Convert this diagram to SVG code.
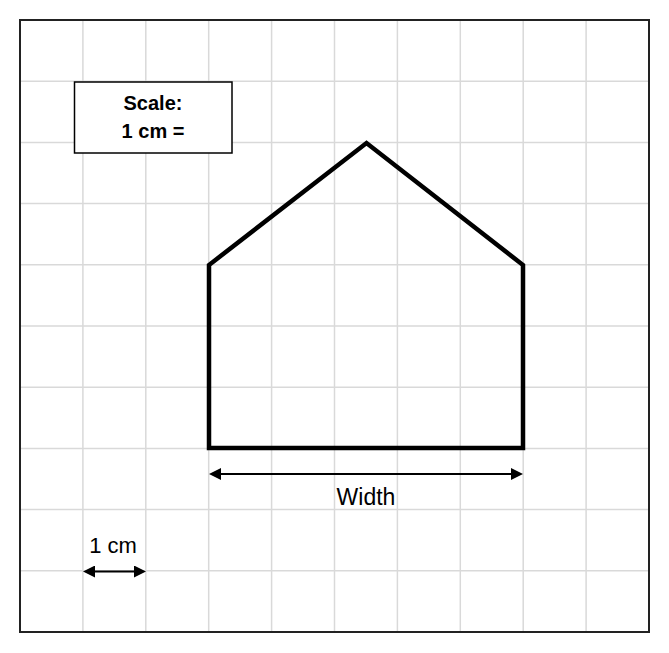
<svg xmlns="http://www.w3.org/2000/svg" width="669" height="653" viewBox="0 0 669 653">
  <style>
    .grid line { stroke: #d9d9d9; stroke-width: 1.5; }
    .lbl { font-family: "Liberation Sans", Arial, sans-serif; fill: #000; text-anchor: middle; }
    .bold { font-weight: bold; }
    .arrow { stroke: #000; stroke-width: 2; marker-start: url(#ah); marker-end: url(#ah); }
  </style>
  <defs>
    <marker id="ah" viewBox="0 0 12 12" refX="6" refY="6" markerWidth="12" markerHeight="12" markerUnits="userSpaceOnUse" orient="auto-start-reverse">
      <path d="M0,0 L12,6 L0,12 z" fill="#000"/>
    </marker>
  </defs>
  <rect x="0" y="0" width="669" height="653" fill="#fff"/>
  <g id="grid" class="grid">
    <line x1="82.9" y1="20" x2="82.9" y2="632"/>
    <line x1="145.8" y1="20" x2="145.8" y2="632"/>
    <line x1="208.7" y1="20" x2="208.7" y2="632"/>
    <line x1="271.6" y1="20" x2="271.6" y2="632"/>
    <line x1="334.5" y1="20" x2="334.5" y2="632"/>
    <line x1="397.4" y1="20" x2="397.4" y2="632"/>
    <line x1="460.3" y1="20" x2="460.3" y2="632"/>
    <line x1="523.2" y1="20" x2="523.2" y2="632"/>
    <line x1="586.1" y1="20" x2="586.1" y2="632"/>
    <line x1="20" y1="81.2" x2="649" y2="81.2"/>
    <line x1="20" y1="142.4" x2="649" y2="142.4"/>
    <line x1="20" y1="203.6" x2="649" y2="203.6"/>
    <line x1="20" y1="264.8" x2="649" y2="264.8"/>
    <line x1="20" y1="326" x2="649" y2="326"/>
    <line x1="20" y1="387.2" x2="649" y2="387.2"/>
    <line x1="20" y1="448.4" x2="649" y2="448.4"/>
    <line x1="20" y1="509.6" x2="649" y2="509.6"/>
    <line x1="20" y1="570.8" x2="649" y2="570.8"/>
  </g>
  <rect id="border" x="20" y="20" width="629" height="612" fill="none" stroke="#222" stroke-width="2"/>
  <g id="house">
    <polygon points="209,448 209,265 366.5,143 523,265 523,448" fill="none" stroke="#000" stroke-width="4.5" stroke-linejoin="miter"/>
  </g>
  <g id="scale-box">
    <rect x="74.5" y="82" width="157.5" height="71" fill="#fff" stroke="#000" stroke-width="1.5"/>
    <text class="lbl bold" x="153" y="110" font-size="20">Scale:</text>
    <text class="lbl bold" x="153" y="138" font-size="20">1 cm =</text>
  </g>
  <g id="connectors">
    <line class="arrow" x1="215" y1="474" x2="517" y2="474"/>
    <line class="arrow" x1="89" y1="571.5" x2="140" y2="571.5"/>
  </g>
  <g id="width-label">
    <text class="lbl" x="366" y="505" font-size="23">Width</text>
  </g>
  <g id="unit-label">
    <text class="lbl" x="113" y="553" font-size="22">1 cm</text>
  </g>
</svg>
